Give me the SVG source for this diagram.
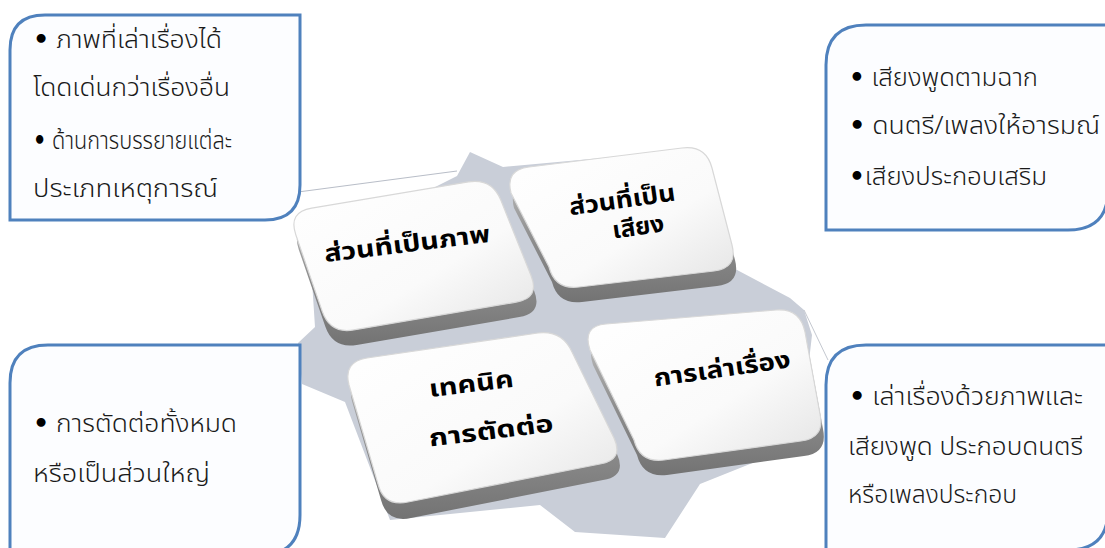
<svg xmlns="http://www.w3.org/2000/svg" width="1105" height="548" viewBox="0 0 1105 548">
<style>
.box{fill:#fcfdff;stroke:#4f81bd;stroke-width:3}
.txt{font-family:"Noto Sans Thai","Noto Sans Thai UI","Loma","Garuda","Tlwg Typo","Noto Sans","DejaVu Sans",sans-serif;font-size:25px;font-weight:300;fill:#1a1a1a}
.bul{font-family:"DejaVu Sans",sans-serif;font-weight:bold;font-size:24px;fill:#000}
.lbl{font-family:"Noto Sans Thai","Noto Sans Thai UI","Loma","Garuda","Tlwg Typo","Noto Sans","DejaVu Sans",sans-serif;font-size:24px;font-weight:bold;fill:#000;text-anchor:middle}
.face{fill:url(#faceG);stroke:#d8d8d8;stroke-width:1.2}
.side{fill:url(#sideG)}
</style>
<defs>
<linearGradient id="faceG" x1="0" y1="0" x2="1" y2="1">
<stop offset="0" stop-color="#ffffff"/>
<stop offset="0.6" stop-color="#fafafa"/>
<stop offset="1" stop-color="#e4e4e4"/>
</linearGradient>
<linearGradient id="sideG" x1="0" y1="0" x2="0" y2="1">
<stop offset="0" stop-color="#c4c4c4"/>
<stop offset="0.55" stop-color="#8e8e8e"/>
<stop offset="1" stop-color="#737373"/>
</linearGradient>
</defs>
<rect width="1105" height="548" fill="#ffffff"/>

<g id="base">
<polygon points="457,176 470,152 503,167 690,150 722,262 790,298 804,310 812,335 800,440 760,460 700,484 665,538 575,532 540,505 390,520 345,402 302,384 298,343 315,327 310,250" fill="#c9ced8"/>
<line x1="298" y1="192" x2="457" y2="171" stroke="#b9bec8" stroke-width="1.2"/>
<line x1="804" y1="310" x2="828" y2="360" stroke="#c4c8d0" stroke-width="1"/>
</g>

<g id="connectors"></g>

<g id="callout-visual">
<path class="box" d="M10,50 Q10,15 45,15 L300,15 L300,185 Q300,220 265,220 L10,220 Z"/>
<text class="txt" x="33" y="48" textLength="189" lengthAdjust="spacingAndGlyphs"><tspan class="bul">•</tspan> ภาพที่เล่าเรื่องได้</text>
<text class="txt" x="33" y="96" textLength="197" lengthAdjust="spacingAndGlyphs">โดดเด่นกว่าเรื่องอื่น</text>
<text class="txt" x="33" y="149" textLength="199" lengthAdjust="spacingAndGlyphs"><tspan class="bul">•</tspan> ด้านการบรรยายแต่ละ</text>
<text class="txt" x="33" y="197" textLength="185" lengthAdjust="spacingAndGlyphs">ประเภทเหตุการณ์</text>
</g>

<g id="callout-audio">
<path class="box" d="M826,65 Q826,25 866,25 L1108,25 L1108,190 Q1108,230 1068,230 L826,230 Z"/>
<text class="txt" x="849" y="86" textLength="189" lengthAdjust="spacingAndGlyphs"><tspan class="bul">•</tspan> เสียงพูดตามฉาก</text>
<text class="txt" x="849" y="134" textLength="251" lengthAdjust="spacingAndGlyphs"><tspan class="bul">•</tspan> ดนตรี/เพลงให้อารมณ์</text>
<text class="txt" x="849" y="185" textLength="198" lengthAdjust="spacingAndGlyphs"><tspan class="bul">•</tspan>เสียงประกอบเสริม</text>
</g>

<g id="callout-editing">
<path class="box" d="M10,383 Q10,345 48,345 L300,345 L300,515 Q300,555 260,555 L10,555 Z"/>
<text class="txt" x="33" y="432" textLength="204" lengthAdjust="spacingAndGlyphs"><tspan class="bul">•</tspan> การตัดต่อทั้งหมด</text>
<text class="txt" x="33" y="482" textLength="177" lengthAdjust="spacingAndGlyphs">หรือเป็นส่วนใหญ่</text>
</g>

<g id="callout-story">
<path class="box" d="M826,385 Q826,345 866,345 L1108,345 L1108,510 Q1108,550 1068,550 L826,550 Z"/>
<text class="txt" x="849" y="405" textLength="234" lengthAdjust="spacingAndGlyphs"><tspan class="bul">•</tspan> เล่าเรื่องด้วยภาพและ</text>
<text class="txt" x="848" y="455" textLength="235" lengthAdjust="spacingAndGlyphs">เสียงพูด ประกอบดนตรี</text>
<text class="txt" x="848" y="503" textLength="169" lengthAdjust="spacingAndGlyphs">หรือเพลงประกอบ</text>
</g>

<g id="node-visual">
<path class="side" transform="translate(3,15)" d="M311.7,208.1 L468.3,181.9 Q492,178 500.9,200.3 L531.1,275.7 Q540,298 516.3,302.1 L353.7,329.9 Q330,334 322.2,311.3 L295.8,234.7 Q288,212 311.7,208.1 Z"/>
<path class="face" d="M311.7,208.1 L468.3,181.9 Q492,178 500.9,200.3 L531.1,275.7 Q540,298 516.3,302.1 L353.7,329.9 Q330,334 322.2,311.3 L295.8,234.7 Q288,212 311.7,208.1 Z"/>
<text class="lbl" transform="translate(407,243) rotate(-7)" x="0" y="9" textLength="167" lengthAdjust="spacingAndGlyphs">ส่วนที่เป็นภาพ</text>
</g>

<g id="node-audio">
<path class="side" transform="translate(3,15)" d="M529,167 L682,148 Q706,145 712,168 L732,245 Q738,268 714,271 L579,287 Q555,290 549,267 L511,193 Q505,170 529,167 Z"/>
<path class="face" d="M529,167 L682,148 Q706,145 712,168 L732,245 Q738,268 714,271 L579,287 Q555,290 549,267 L511,193 Q505,170 529,167 Z"/>
<text class="lbl" transform="translate(622,199) rotate(-8)" x="0" y="9" textLength="107" lengthAdjust="spacingAndGlyphs">ส่วนที่เป็น</text>
<text class="lbl" transform="translate(638,226) rotate(-8)" x="0" y="9" textLength="52" lengthAdjust="spacingAndGlyphs">เสียง</text>
</g>

<g id="node-editing">
<path class="side" transform="translate(3,16)" d="M367,358 L538,333 Q562,330 572,352 L614,438 Q624,460 600,464 L408,502 Q384,507 378,484 L349,385 Q343,362 367,358 Z"/>
<path class="face" d="M367,358 L538,333 Q562,330 572,352 L614,438 Q624,460 600,464 L408,502 Q384,507 378,484 L349,385 Q343,362 367,358 Z"/>
<text class="lbl" transform="translate(471,383) rotate(-7)" x="0" y="9" textLength="85" lengthAdjust="spacingAndGlyphs">เทคนิค</text>
<text class="lbl" transform="translate(491,430) rotate(-7)" x="0" y="9" textLength="125" lengthAdjust="spacingAndGlyphs">การตัดต่อ</text>
</g>

<g id="node-story">
<path class="side" transform="translate(3,15)" d="M606,324 L776,310 Q800,308 805,332 L820,414 Q825,438 801,441 L664,460 Q640,463 634,440 L590,350 Q582,326 606,324 Z"/>
<path class="face" d="M606,324 L776,310 Q800,308 805,332 L820,414 Q825,438 801,441 L664,460 Q640,463 634,440 L590,350 Q582,326 606,324 Z"/>
<text class="lbl" transform="translate(722,368) rotate(-8)" x="0" y="9" textLength="138" lengthAdjust="spacingAndGlyphs">การเล่าเรื่อง</text>
</g>
</svg>
